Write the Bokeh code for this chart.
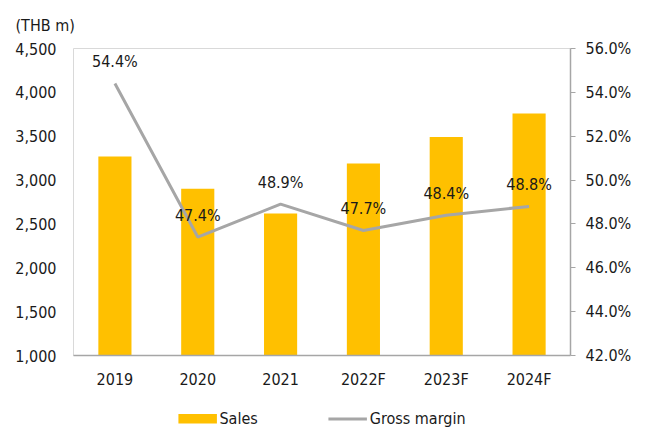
from bokeh.plotting import figure
from bokeh.layouts import column
from bokeh.models import (ColumnDataSource, Range1d, LinearAxis, FixedTicker,
                          NumeralTickFormatter, PrintfTickFormatter, LabelSet,
                          Legend, LegendItem, FactorRange)
from bokeh.core.properties import value
from bokeh.embed import file_html
from bokeh.resources import INLINE

years = ["2019", "2020", "2021", "2022F", "2023F", "2024F"]
sales = [3270, 2900, 2620, 3190, 3490, 3760]
gross_margin = [54.4, 47.4, 48.9, 47.7, 48.4, 48.8]
left_ticks = [1000, 1500, 2000, 2500, 3000, 3500, 4000, 4500]
right_ticks = [42, 44, 46, 48, 50, 52, 54, 56]

FONT = "DejaVu Sans Condensed"
FS = "16px"
TXT = "#1a1a1a"
BAR = "#FFC000"
LINE = "#A6A6A6"

src = ColumnDataSource(dict(
    year=years, sales=sales, gm=gross_margin,
    gm_label=[f"{v:.1f}%" for v in gross_margin],
))

p = figure(width=645, height=400, x_range=FactorRange(*years, range_padding=0),
           y_range=Range1d(1000, 4500), output_backend="svg", toolbar_location=None,
           min_border_left=73, min_border_right=75, min_border_top=48, min_border_bottom=45,
           title="(THB m)")
p.extra_y_ranges = {"gm": Range1d(42, 56)}

p.vbar(x="year", top="sales", bottom=1000, width=0.4, source=src,
       fill_color=BAR, line_color=None)
p.line(x="year", y="gm", source=src, y_range_name="gm",
       line_color=LINE, line_width=3)

labels = LabelSet(x="year", y="gm", text="gm_label", source=src, y_range_name="gm",
                  y_offset=22, text_align="center", text_baseline="middle",
                  text_font=value(FONT), text_font_size=value(FS), text_color=TXT)
p.add_layout(labels)

p.title.align = "left"
p.title.offset = -58
p.title.standoff = 27
p.title.text_font = FONT
p.title.text_font_size = FS
p.title.text_font_style = "normal"
p.title.text_color = TXT

p.xgrid.visible = False
p.ygrid.visible = False
p.outline_line_color = "#D9D9D9"
p.background_fill_color = "white"
p.border_fill_color = "white"

# left axis
la = p.yaxis[0]
la.ticker = FixedTicker(ticks=left_ticks)
la.formatter = NumeralTickFormatter(format="0,0")
la.axis_line_color = None
la.major_tick_line_color = None
la.minor_tick_line_color = None
la.major_tick_out = 0
la.major_tick_in = 0
la.major_label_standoff = 17
la.major_label_text_font = FONT
la.major_label_text_font_size = FS
la.major_label_text_color = TXT

# right axis
ra = LinearAxis(y_range_name="gm", ticker=FixedTicker(ticks=right_ticks),
                formatter=PrintfTickFormatter(format="%.1f%%"))
ra.axis_line_color = LINE
ra.axis_line_width = 1.5
ra.major_tick_line_color = LINE
ra.major_tick_out = 5
ra.major_tick_in = 0
ra.minor_tick_line_color = None
ra.major_label_standoff = 10
ra.major_label_text_font = FONT
ra.major_label_text_font_size = FS
ra.major_label_text_color = TXT
p.add_layout(ra, "right")

# x axis
xa = p.xaxis[0]
xa.axis_line_color = LINE
xa.axis_line_width = 1.5
xa.major_tick_line_color = None
xa.major_tick_out = 0
xa.major_tick_in = 0
xa.major_label_standoff = 14
xa.major_label_text_font = FONT
xa.major_label_text_font_size = FS
xa.major_label_text_color = TXT

# legend strip below the chart
lf = figure(width=645, height=30, x_range=Range1d(0, 1), y_range=Range1d(0, 1),
            output_backend="svg", toolbar_location=None,
            min_border_left=0, min_border_right=0, min_border_top=6, min_border_bottom=0)
lf.axis.visible = False
lf.grid.visible = False
lf.outline_line_color = None
lf.border_fill_color = "white"
# legend swatches only (kept outside the visible range)
sw_bar = lf.line(x=[-5, -4], y=[-5, -5], line_color=BAR, line_width=10, line_cap="butt")
sw_line = lf.line(x=[-5, -4], y=[-5, -5], line_color=LINE, line_width=3)
legend = Legend(items=[LegendItem(label="Sales", renderers=[sw_bar]),
                       LegendItem(label="Gross margin", renderers=[sw_line])],
                orientation="horizontal", location="center",
                glyph_width=39, glyph_height=10, label_height=16,
                label_standoff=3, spacing=70, padding=0, margin=0,
                border_line_color=None, background_fill_alpha=0,
                label_text_font=FONT, label_text_font_size=FS,
                label_text_color=TXT)
lf.add_layout(legend)

layout = column(p, lf, spacing=0)
open("out.html", "w").write(file_html(layout, INLINE))
